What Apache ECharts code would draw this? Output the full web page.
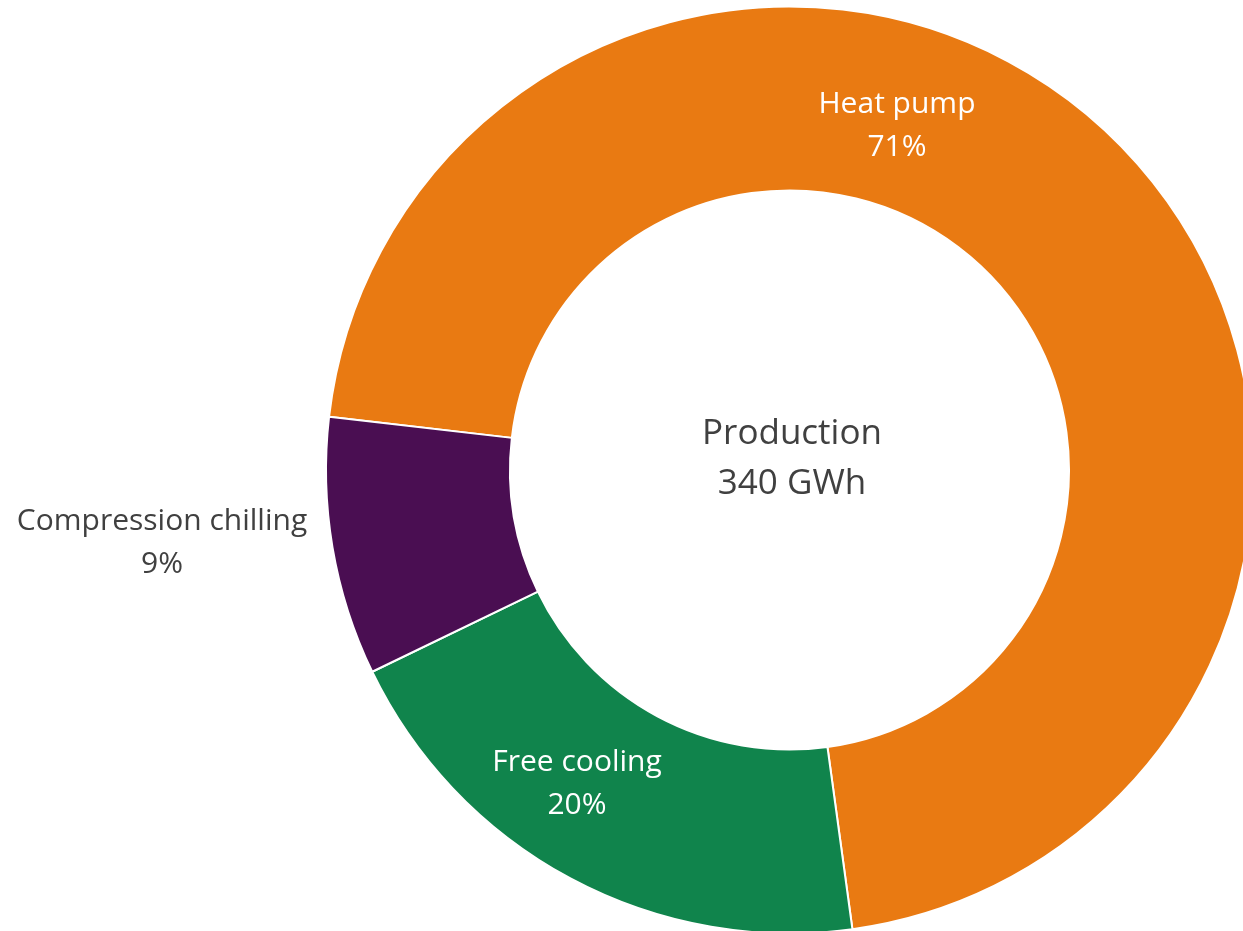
<!DOCTYPE html>
<html>
<head>
<meta charset="utf-8">
<script src="https://cdn.jsdelivr.net/npm/echarts@6/dist/echarts.min.js"></script>
<style>
  html, body { margin: 0; padding: 0; background: #fff; }
  #chart { width: 1243px; height: 931px; }
</style>
</head>
<body>
<div id="chart"></div>
<script>
// 数据
const categories = ['Heat pump', 'Free cooling', 'Compression chilling'];
const shares = [71, 20, 9];
const colors = ['#E97A12', '#10844C', '#4A0E52'];
const totalLabel = ['Production', '340 GWh'];

// label anchor points (block centres)
const labelSpots = [[897, 126], [577, 784], [162, 543]];
const labelColors = ['#ffffff', '#ffffff', '#404040'];

const chart = echarts.init(document.getElementById('chart'));

const option = {
  backgroundColor: '#ffffff',
  color: colors,
  graphic: [{
    type: 'text',
    x: 792, y: 459,
    style: {
      text: totalLabel.join('\n'),
      font: '35px "Open Sans"',
      lineHeight: 50,
      fill: '#404040',
      align: 'center',
      verticalAlign: 'middle'
    }
  }],
  series: [{
    type: 'pie',
    center: [789.5, 470],
    radius: [279.5, 463.5],
    startAngle: 173.4,
    clockwise: true,
    avoidLabelOverlap: false,
    silent: true,
    itemStyle: { borderColor: '#ffffff', borderWidth: 2 },
    label: {
      show: true,
      position: 'inside',
      formatter: '{b}\n{d}%',
      fontFamily: 'Open Sans',
      fontSize: 30,
      lineHeight: 43,
      align: 'center'
    },
    labelLine: { show: false },
    labelLayout: function (p) {
      const s = labelSpots[p.dataIndex];
      return { x: s[0], y: s[1], align: 'center', verticalAlign: 'middle' };
    },
    data: categories.map((name, i) => ({
      name: name,
      value: shares[i],
      label: { color: labelColors[i] }
    }))
  }]
};

chart.setOption(option);
</script>
</body>
</html>
